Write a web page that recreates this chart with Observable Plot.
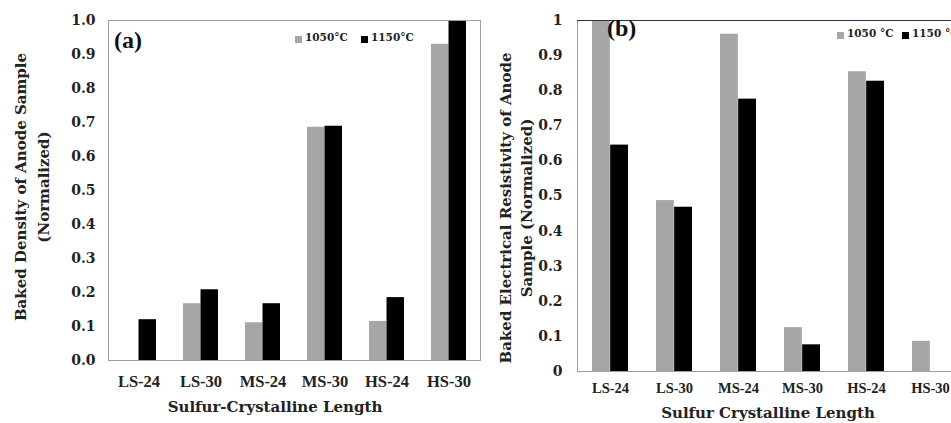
<!DOCTYPE html>
<html>
<head>
<meta charset="utf-8">
<script src="https://cdn.jsdelivr.net/npm/d3@7"></script>
<script src="https://cdn.jsdelivr.net/npm/@observablehq/plot@0.6"></script>
<style>
  body { margin: 0; background: #fff; }
  #wrap { position: relative; width: 951px; height: 423px; overflow: hidden; background: #fff; }
  .panel { position: absolute; top: 0; }
  .lbl { position: absolute; font-family: "Liberation Serif", serif; font-weight: bold; color: #111; white-space: nowrap; }
  .leg { position: absolute; font-family: "DejaVu Serif", serif; font-weight: bold; font-size: 10.5px; color: #222; white-space: nowrap; }
  .sw { position: absolute; width: 7px; height: 7px; }
</style>
</head>
<body>
<div id="wrap"></div>
<script>
const categories = ["LS-24", "LS-30", "MS-24", "MS-30", "HS-24", "HS-30"];
const seriesNames = ["1050°C", "1150°C"];
const densityT1050 = [0, 0.167, 0.111, 0.686, 0.115, 0.930];
const densityT1150 = [0.120, 0.208, 0.167, 0.689, 0.185, 1.0];
const resistT1050 = [1.0, 0.487, 0.961, 0.125, 0.854, 0.086];
const resistT1150 = [0.645, 0.468, 0.776, 0.076, 0.827, 0];
const yTicks = [0, 0.1, 0.2, 0.3, 0.4, 0.5, 0.6, 0.7, 0.8, 0.9, 1.0];

const GRAY = "#a6a6a6", BLACK = "#000000";
const FONT = "DejaVu Serif";
const wrap = document.getElementById("wrap");

function panel({v1, v2, left, width, mL, mR, mT, mB, yFmt, yPad, xPad, xFont, xTitle, xTitleX, xTitleY, yTitle, yTitleX, yTitleY, frameAll}) {
  const pi = 0.435;
  const step = (width - mL - mR) / categories.length;
  const bw = step * (1 - pi);
  const d1 = categories.map((c, i) => ({c, v: v1[i]}));
  const d2 = categories.map((c, i) => ({c, v: v2[i]}));
  const marks = [
    Plot.barY(d1, {x: "c", y: "v", fill: GRAY, insetLeft: 0, insetRight: bw / 2}),
    Plot.barY(d2, {x: "c", y: "v", fill: BLACK, insetLeft: bw / 2, insetRight: 0}),
  ];
  if (frameAll) {
    marks.push(Plot.frame({stroke: "#a0a0a0"}));
  } else {
    marks.push(Plot.frame({anchor: "left", stroke: "#a0a0a0"}));
    marks.push(Plot.frame({anchor: "bottom", stroke: "#a0a0a0"}));
    marks.push(Plot.frame({anchor: "top", stroke: "#333"}));
  }
  marks.push(Plot.axisY({ticks: yTicks, tickFormat: yFmt, tickSize: 0, tickPadding: yPad, label: null,
    fontSize: 14, fontWeight: "bold", fill: "#222"}));
  marks.push(Plot.axisX({tickSize: 0, tickPadding: xPad, label: null, fontSize: xFont, fontWeight: "bold",
    fontFamily: "Liberation Serif", fill: "#222"}));
  const svg = Plot.plot({
    width, height: 423,
    marginLeft: mL, marginRight: mR, marginTop: mT, marginBottom: mB,
    style: {fontFamily: FONT, background: "transparent", overflow: "visible"},
    x: {type: "band", domain: categories, paddingInner: pi, paddingOuter: pi / 2, axis: null},
    y: {domain: [0, 1], axis: null},
    marks
  });
  svg.classList.add("panel");
  svg.style.left = left + "px";
  wrap.appendChild(svg);

  const ns = "http://www.w3.org/2000/svg";
  const tx = document.createElementNS(ns, "text");
  tx.setAttribute("x", xTitleX); tx.setAttribute("y", xTitleY);
  tx.setAttribute("text-anchor", "middle");
  tx.setAttribute("font-family", FONT); tx.setAttribute("font-weight", "bold");
  tx.setAttribute("font-size", "15"); tx.setAttribute("fill", "#222");
  tx.textContent = xTitle;
  svg.appendChild(tx);
  yTitle.forEach((line, i) => {
    const t = document.createElementNS(ns, "text");
    t.setAttribute("transform", `translate(${yTitleX[i]},${yTitleY}) rotate(-90)`);
    t.setAttribute("text-anchor", "middle");
    t.setAttribute("dominant-baseline", "central");
    t.setAttribute("font-family", FONT); t.setAttribute("font-weight", "bold");
    t.setAttribute("font-size", "15"); t.setAttribute("fill", "#222");
    t.textContent = line;
    svg.appendChild(t);
  });
}

panel({v1: densityT1050, v2: densityT1150, left: 0, width: 485, mL: 108, mR: 5, mT: 20, mB: 63,
  yFmt: d3.format(".1f"), yPad: 13, xPad: 15, xFont: 16.5,
  xTitle: "Sulfur-Crystalline Length", xTitleX: 275, xTitleY: 412,
  yTitle: ["Baked Density of Anode Sample", "(Normalized)"], yTitleX: [21, 44], yTitleY: 187, frameAll: true});

panel({v1: resistT1050, v2: resistT1150, left: 480, width: 500, mL: 97, mR: 17, mT: 20, mB: 52,
  yFmt: d => (d === 0 ? "0" : d === 1 ? "1" : d3.format(".1f")(d)), yPad: 15, xPad: 11, xFont: 14.5,
  xTitle: "Sulfur Crystalline Length", xTitleX: 288, xTitleY: 418,
  yTitle: ["Baked Electrical Resistivity of Anode", "Sample (Normalized)"], yTitleX: [26, 47], yTitleY: 208, frameAll: false});

function addLabel(text, x, y, size) {
  const d = document.createElement("div");
  d.className = "lbl"; d.textContent = text;
  d.style.left = x + "px"; d.style.top = y + "px"; d.style.fontSize = size + "px";
  wrap.appendChild(d);
}
function addLegend(x, y, labels, gap) {
  let cx = x;
  labels.forEach((lab, i) => {
    const s = document.createElement("div");
    s.className = "sw"; s.style.background = i === 0 ? GRAY : BLACK;
    s.style.left = cx + "px"; s.style.top = (y + 3) + "px";
    wrap.appendChild(s);
    const t = document.createElement("div");
    t.className = "leg"; t.textContent = lab;
    t.style.left = (cx + 10) + "px"; t.style.top = (y - 2) + "px";
    wrap.appendChild(t);
    cx += gap;
  });
}
addLabel("(a)", 114, 27, 24);
addLabel("(b)", 607, 15, 24);
addLegend(295, 33, seriesNames, 66);
addLegend(837, 29, ["1050 °C", "1150 °C"], 65);
</script>
</body>
</html>
